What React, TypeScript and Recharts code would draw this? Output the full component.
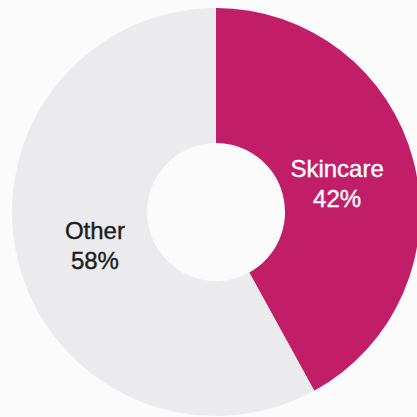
import { PieChart, Pie, Cell } from 'recharts';

// share of sales by category
const categories = ['Skincare', 'Other'];
const shares = [42, 58];
const sliceColors = ['#c11d69', '#ebebed'];
const labelColors = ['#ffffff', '#1e1e1e'];

const data = categories.map((name, i) => ({ name, value: shares[i] }));

const RADIAN = Math.PI / 180;

const renderLabel = (props: any) => {
  const { cx, cy, midAngle, index, name, value } = props;
  const r = 125;
  const x = cx + r * Math.cos(-midAngle * RADIAN);
  const y = cy + r * Math.sin(-midAngle * RADIAN);
  return (
    <text
      x={x}
      y={y}
      textAnchor="middle"
      fill={labelColors[index]}
      stroke={labelColors[index]}
      strokeWidth={0.4}
      fontFamily="'Liberation Sans', Arial, sans-serif"
      fontSize={24}
    >
      <tspan x={x} y={y - 4}>{name}</tspan>
      <tspan x={x} y={y + 26}>{`${value}%`}</tspan>
    </text>
  );
};

export default function App() {
  return (
    <div
      style={{
        position: 'fixed',
        top: 0,
        left: 0,
        width: 417,
        height: 417,
        background: '#fbfbfb',
        overflow: 'hidden',
      }}
    >
      <PieChart width={417} height={417} margin={{ top: 0, right: 0, bottom: 0, left: 0 }}>
        <Pie
          data={data}
          dataKey="value"
          nameKey="name"
          cx={216}
          cy={212}
          innerRadius={69}
          outerRadius={204}
          startAngle={90}
          endAngle={-270}
          stroke="none"
          label={renderLabel}
          labelLine={false}
          isAnimationActive={false}
        >
          {data.map((_, index) => (
            <Cell key={`cell-${index}`} fill={sliceColors[index]} />
          ))}
        </Pie>
      </PieChart>
    </div>
  );
}
